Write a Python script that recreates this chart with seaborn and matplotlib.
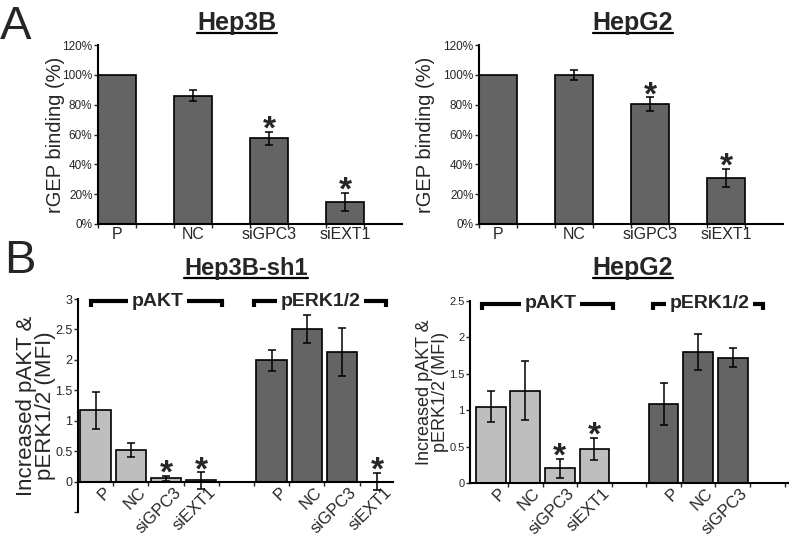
import numpy as np
import pandas as pd
import seaborn as sns
import matplotlib.pyplot as plt
from matplotlib.lines import Line2D
from matplotlib.transforms import ScaledTranslation

sns.set_style('white')
plt.rcParams['font.family'] = ['Liberation Sans', 'DejaVu Sans']

DARK = '#646464'
LIGHT = '#bebebe'

# panel A: rGEP binding (%)
a_groups = ['P', 'NC', 'siGPC3', 'siEXT1']
hep3b_mean = [100, 86, 57.5, 14.8]
hep3b_err = [0, 3.7, 4.4, 6.2]
hep3b_star = [False, False, True, True]
hepg2_mean = [100, 99.8, 80.4, 30.8]
hepg2_err = [0, 3.5, 4.5, 6.2]
hepg2_star = [False, False, True, True]

# panel B: increased pAKT & pERK1/2 (MFI)
b_groups = ['P', 'NC', 'siGPC3', 'siEXT1']
sh1_akt = [1.17, 0.52, 0.055, 0.02]
sh1_akt_err = [0.30, 0.12, 0.04, 0.135]
sh1_akt_star = [False, False, True, True]
sh1_erk = [1.99, 2.50, 2.13, 0.0]
sh1_erk_err = [0.17, 0.23, 0.39, 0.14]
sh1_erk_star = [False, False, False, True]
g2_akt = [1.05, 1.27, 0.20, 0.47]
g2_akt_err = [0.21, 0.40, 0.13, 0.15]
g2_akt_star = [False, False, True, True]
g2_erk = [1.09, 1.80, 1.72]
g2_erk_err = [0.29, 0.25, 0.13]
g2_erk_star = [False, False, False]

W, H = 792, 537
fig = plt.figure(figsize=(W / 100, H / 100), dpi=100)


def rect(x0, y_top, x1, y_bot):
    return [x0 / W, 1 - y_bot / H, (x1 - x0) / W, (y_bot - y_top) / H]


def star(ax, x, top, size=24):
    ax.annotate('*', xy=(x, top), xytext=(0, -5), textcoords='offset points',
                ha='center', va='baseline', fontsize=size, fontweight='bold')


def panel_a(ax, means, errs, stars, ylab_x):
    df = pd.DataFrame({'group': a_groups, 'mean': means})
    sns.barplot(data=df, x='group', y='mean', order=a_groups, color=DARK,
                saturation=1, width=0.5, edgecolor='black', linewidth=1.2,
                errorbar=None, ax=ax)
    pos = np.arange(len(a_groups))
    for p, m, e, s in zip(pos, means, errs, stars):
        if e > 0:
            ax.errorbar(p, m, yerr=e, fmt='none', ecolor='black',
                        elinewidth=1.1, capsize=3, capthick=1.1)
        if s:
            star(ax, p, m + e)
    ax.set_xlim(-0.25, 3.75)
    ax.set_ylim(0, 120)
    ax.set_yticks(range(0, 121, 20))
    ax.set_yticklabels([f'{v}%' for v in range(0, 121, 20)], fontsize=8.5)
    ax.set_xticks(pos)
    ax.set_xticklabels(a_groups, fontsize=11.5)
    ax.set_xticks(np.concatenate([pos - 0.25, pos + 0.25]), minor=True)
    ax.tick_params(axis='x', which='major', length=0, pad=2)
    ax.tick_params(axis='x', which='minor', length=3, width=1, direction='out', bottom=True)
    ax.tick_params(axis='y', length=3, width=1, direction='out', left=True, pad=1)
    ax.set_xlabel('')
    ax.set_ylabel('rGEP binding (%)', fontsize=14.5)
    ax.yaxis.set_label_coords(ylab_x, 0.5)
    sns.despine(ax=ax)
    for sp in ['left', 'bottom']:
        ax.spines[sp].set_linewidth(1.5)
        ax.spines[sp].set_color('black')


def bracket(ax, x0, x1, xt, y, dy, label, size=14):
    ax.plot([x0, x0, x1, x1], [y - dy, y, y, y - dy], color='black', lw=3,
            solid_capstyle='butt', solid_joinstyle='miter', clip_on=False)
    ax.text(xt, y, label, ha='center', va='center', fontsize=size, fontweight='bold',
            bbox=dict(fc='white', ec='none', pad=2.5))


def panel_b(ax, akt, akt_err, akt_star, erk, erk_err, erk_star):
    akt_keys = [f'pAKT|{g}' for g in b_groups[:len(akt)]]
    erk_keys = [f'pERK|{g}' for g in b_groups[:len(erk)]]
    df = pd.DataFrame({'key': akt_keys + erk_keys,
                       'marker': ['pAKT'] * len(akt) + ['pERK'] * len(erk),
                       'value': akt + erk})
    order = akt_keys + ['gap'] + erk_keys
    sns.barplot(data=df, x='key', y='value', order=order, hue='marker',
                palette={'pAKT': LIGHT, 'pERK': DARK}, dodge=False, legend=False,
                saturation=1, width=0.86, edgecolor='black', linewidth=1.2,
                errorbar=None, ax=ax)
    sns.despine(ax=ax)
    # spine move resets the ticks, so do it before styling them
    ax.spines['bottom'].set_position(('data', 0))
    for sp in ['left', 'bottom']:
        ax.spines[sp].set_linewidth(1.5)
        ax.spines[sp].set_color('black')
    pos = [i for i, k in enumerate(order) if k != 'gap']
    means = akt + erk
    errs = akt_err + erk_err
    stars = akt_star + erk_star
    for p, m, e, s in zip(pos, means, errs, stars):
        ax.errorbar(p, m, yerr=e, fmt='none', ecolor='black',
                    elinewidth=1.1, capsize=3, capthick=1.1)
        if s:
            star(ax, p, m + e)
    labels = [k.split('|')[1] if k != 'gap' else '' for k in order]
    ax.set_xticks(range(len(order)))
    ax.set_xticks(np.arange(0.5, 9, 1), minor=True)
    ax.tick_params(axis='x', which='major', length=0, pad=2)
    ax.tick_params(axis='x', which='minor', length=3, width=1, direction='out', bottom=True)
    ax.tick_params(axis='y', length=3, width=1, direction='out', left=True, pad=1)
    ax.set_xticklabels(labels, fontsize=12, rotation=45, ha='right', va='center',
                       rotation_mode='anchor')
    ax.set_xlabel('')
    ax.set_ylabel('Increased pAKT &\npERK1/2 (MFI)', linespacing=0.9)


def shift_xlabels(ax, dx, dy):
    off = ScaledTranslation(dx / 72, dy / 72, fig.dpi_scale_trans)
    for t in ax.get_xticklabels():
        t.set_transform(t.get_transform() + off)


# ---- A ----
axA1 = fig.add_axes(rect(98, 45, 402, 224))
panel_a(axA1, hep3b_mean, hep3b_err, hep3b_star, -0.11)
axA2 = fig.add_axes(rect(479, 45, 783, 224))
panel_a(axA2, hepg2_mean, hepg2_err, hepg2_star, -0.145)

# ---- B left ----
axB1 = fig.add_axes(rect(78, 299, 393, 512))
panel_b(axB1, sh1_akt, sh1_akt_err, sh1_akt_star, sh1_erk, sh1_erk_err, sh1_erk_star)
axB1.set_xlim(-0.5, 8.45)
axB1.set_ylim(-0.5, 3)
yt = np.arange(-0.5, 3.01, 0.5)
axB1.set_yticks(yt)
axB1.set_yticklabels([''] + [f'{v:g}' for v in yt[1:]], fontsize=9)
axB1.yaxis.label.set_fontsize(16)
axB1.yaxis.set_label_coords(-0.07, 0.5)
bracket(axB1, -0.14, 3.6, 1.77, 2.965, 0.1, 'pAKT')
bracket(axB1, 4.51, 8.26, 6.4, 2.965, 0.1, 'pERK1/2')

# ---- B right ----
axB2 = fig.add_axes(rect(470, 301, 788, 483))
panel_b(axB2, g2_akt, g2_akt_err, g2_akt_star, g2_erk, g2_erk_err, g2_erk_star)
axB2.set_xlim(-0.6, 8.6)
axB2.set_ylim(0, 2.5)
yt = np.arange(0, 2.51, 0.5)
axB2.set_yticks(yt)
axB2.set_yticklabels([f'{v:g}' for v in yt], fontsize=8)
axB2.yaxis.label.set_fontsize(13)
axB2.yaxis.set_label_coords(-0.066, 0.5)
bracket(axB2, -0.26, 3.54, 1.74, 2.46, 0.08, 'pAKT')
bracket(axB2, 4.7, 7.88, 6.32, 2.46, 0.08, 'pERK1/2')

shift_xlabels(axB1, 9, -4)
shift_xlabels(axB2, 9, -4)

# ---- titles & panel letters ----
titles = [('Hep3B', 237, 30, 18), ('HepG2', 633, 30, 18),
          ('Hep3B-sh1', 246, 275, 17), ('HepG2', 633, 275, 18)]
title_objs = []
for txt, x, y, fs in titles:
    t = fig.text(x / W, 1 - y / H, txt, ha='center', va='baseline',
                 fontsize=fs, fontweight='bold')
    title_objs.append((t, y))
fig.text(0 / W, 1 - 39 / H, 'A', ha='left', va='baseline', fontsize=34)
fig.text(4 / W, 1 - 273 / H, 'B', ha='left', va='baseline', fontsize=34)

fig.canvas.draw()
r = fig.canvas.get_renderer()
for t, y in title_objs:
    bb = t.get_window_extent(r)
    yy = 1 - (y + 3) / H
    fig.add_artist(Line2D([bb.x0 / W, bb.x1 / W], [yy, yy], color='black', lw=1.6))

fig.savefig('out.png', dpi=100)
